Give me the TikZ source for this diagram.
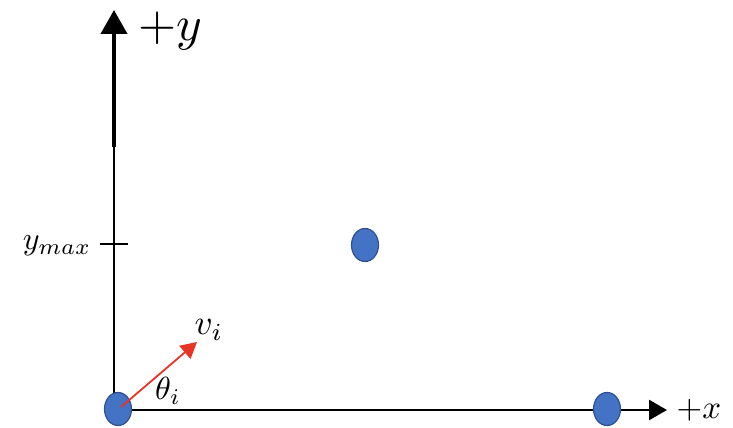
\documentclass[tikz,border=0pt]{standalone}
\usepackage{graphicx}
\usetikzlibrary{arrows.meta,shapes.geometric}
\definecolor{dotfill}{RGB}{68,114,196}
\definecolor{dotline}{RGB}{47,82,143}
\definecolor{vred}{RGB}{232,52,38}
\begin{document}
\begin{tikzpicture}[x=1pt,y=-1pt,
  axis/.style={line width=2.6pt,-{Triangle[length=18pt,width=20pt]}},
  dot/.style={ellipse,draw=dotline,line width=1.2pt,fill=dotfill,minimum width=27pt,minimum height=33pt,inner sep=0pt},
  lbl/.style={inner sep=0pt}]
\useasboundingbox (0,0) rectangle (733,428);
\coordinate (O) at (114,410);
\coordinate (Ymid) at (114,147);
\coordinate (Ytop) at (114,10);
\coordinate (Xend) at (667,410);
\coordinate (Ytick) at (114,244);
\draw[line width=2.6pt] (O) -- (Ymid);
\draw[line width=4pt,-{Triangle[length=24pt,width=26pt]}] (Ymid) -- (Ytop);
\draw[axis] (O) -- (Xend);
\draw[line width=2.2pt] ([xshift=-14pt]Ytick) -- ([xshift=14pt]Ytick);
\node[lbl] (ly) at (170,31) {\scalebox{4.9}{$+y$}};
\node[lbl] (lx) at (699,410) {\scalebox{3.3}{$+x$}};
\node[lbl] (lymax) at (57,246) {\scalebox{3.2}{$y_{max}$}};
\node[dot] (d0) at (118,409) {};
\node[dot] (d1) at (365,245) {};
\node[dot] (d2) at (607,409) {};
\coordinate (vs) at (121,407);
\coordinate (vt) at (197,342);
\draw[vred,line width=1.8pt,-{Triangle[length=16pt,width=17pt]}] (vs) -- (vt);
\node[lbl] (lv) at (209,330) {\scalebox{3.5}{$v_i$}};
\node[lbl] (lt) at (168,391) {\scalebox{3.2}{$\theta_i$}};
\end{tikzpicture}
\end{document}
